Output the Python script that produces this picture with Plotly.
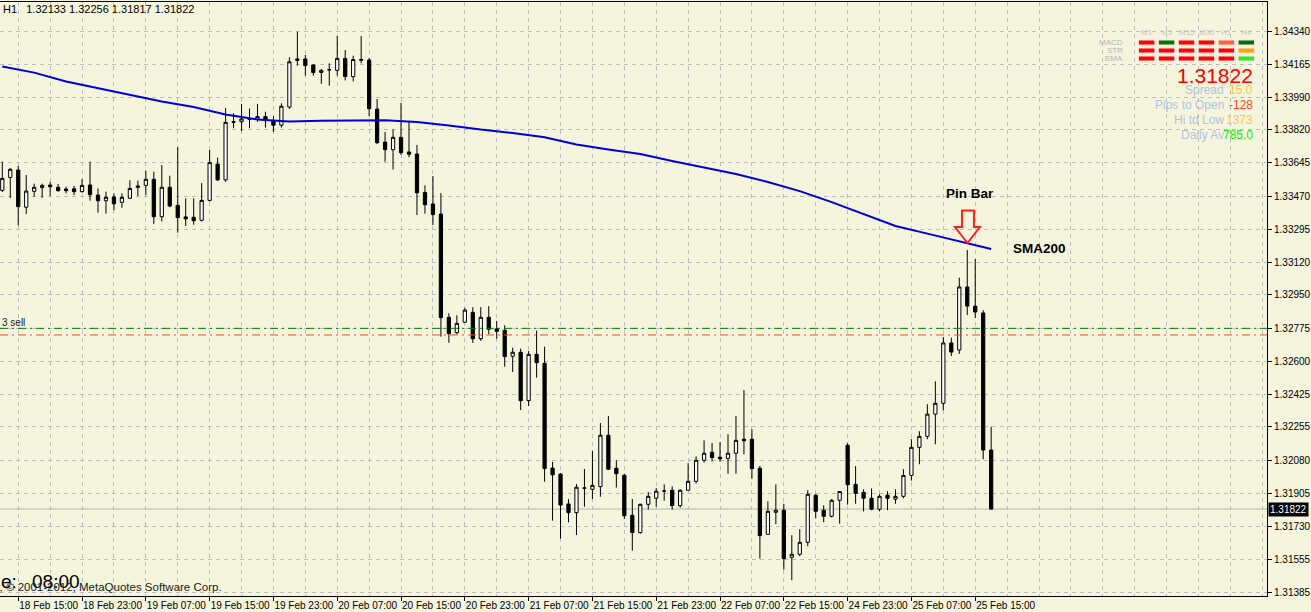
import plotly.graph_objects as go

# ---------------- data (EURUSD H1) ----------------
opens = [1.33501, 1.33569, 1.33608, 1.33412, 1.33496, 1.33515, 1.33529, 1.33517, 1.33508, 1.33509,
         1.33494, 1.33529, 1.33476, 1.33446, 1.33466, 1.33438, 1.33459, 1.33524, 1.33527, 1.33559,
         1.33362, 1.33517, 1.33422, 1.33361, 1.33359, 1.33343, 1.33448, 1.33639, 1.33556, 1.33859,
         1.33862, 1.33875, 1.33875, 1.33890, 1.33868, 1.33844, 1.33940, 1.34193, 1.34193, 1.34161,
         1.34122, 1.34136, 1.34133, 1.34196, 1.34100, 1.34190, 1.34187, 1.33929, 1.33755, 1.33715,
         1.33780, 1.33703, 1.33692, 1.33490, 1.33429, 1.33376, 1.32832, 1.32751, 1.32806, 1.32858,
         1.32719, 1.32832, 1.32771, 1.32764, 1.32627, 1.32648, 1.32393, 1.32637, 1.32590, 1.32038,
         1.32006, 1.31849, 1.31803, 1.31932, 1.31926, 1.31940, 1.32211, 1.32037, 1.32000, 1.31789,
         1.31698, 1.31847, 1.31879, 1.31917, 1.31921, 1.31840, 1.31921, 1.31968, 1.32079, 1.32121,
         1.32095, 1.32089, 1.32116, 1.32190, 1.32190, 1.32037, 1.31689, 1.31805, 1.31816, 1.31568,
         1.31584, 1.31647, 1.31895, 1.31816, 1.31784, 1.31868, 1.32158, 1.31952, 1.31910, 1.31879,
         1.31821, 1.31895, 1.31874, 1.31889, 1.31999, 1.32147, 1.32205, 1.32322, 1.32379, 1.32697,
         1.32660, 1.32992, 1.32891, 1.32855, 1.32133]
highs = [1.33652, 1.33617, 1.33629, 1.33582, 1.33536, 1.33536, 1.33546, 1.33534, 1.33520, 1.33524,
         1.33560, 1.33652, 1.33511, 1.33494, 1.33485, 1.33485, 1.33554, 1.33552, 1.33604, 1.33599,
         1.33634, 1.33578, 1.33729, 1.33459, 1.33459, 1.33539, 1.33713, 1.33673, 1.33935, 1.33907,
         1.33956, 1.33932, 1.33956, 1.33915, 1.33892, 1.33959, 1.34202, 1.34337, 1.34214, 1.34165,
         1.34140, 1.34170, 1.34314, 1.34240, 1.34210, 1.34314, 1.34198, 1.33982, 1.33808, 1.33822,
         1.33961, 1.33866, 1.33740, 1.33527, 1.33576, 1.33486, 1.32853, 1.32843, 1.32881, 1.32886,
         1.32886, 1.32891, 1.32813, 1.32790, 1.32672, 1.32667, 1.32655, 1.32762, 1.32677, 1.32070,
         1.32012, 1.31875, 1.31954, 1.32033, 1.32128, 1.32275, 1.32312, 1.32079, 1.32008, 1.31875,
         1.31850, 1.31912, 1.31933, 1.31952, 1.31942, 1.31926, 1.32064, 1.32100, 1.32184, 1.32170,
         1.32175, 1.32216, 1.32312, 1.32449, 1.32242, 1.32049, 1.31863, 1.31952, 1.31850, 1.31684,
         1.31716, 1.31921, 1.31900, 1.31842, 1.31875, 1.31916, 1.32169, 1.32048, 1.31926, 1.31931,
         1.31900, 1.31916, 1.31926, 1.32032, 1.32190, 1.32232, 1.32374, 1.32495, 1.32728, 1.32725,
         1.33041, 1.33187, 1.33139, 1.32870, 1.32256]
lows = [1.33492, 1.33459, 1.33315, 1.33376, 1.33467, 1.33462, 1.33472, 1.33494, 1.33485, 1.33476,
        1.33489, 1.33446, 1.33383, 1.33378, 1.33396, 1.33409, 1.33455, 1.33471, 1.33476, 1.33324,
        1.33337, 1.33412, 1.33278, 1.33313, 1.33320, 1.33337, 1.33442, 1.33550, 1.33546, 1.33828,
        1.33813, 1.33828, 1.33862, 1.33831, 1.33808, 1.33831, 1.33930, 1.34158, 1.34105, 1.34105,
        1.34062, 1.34052, 1.34105, 1.34080, 1.34075, 1.34170, 1.33892, 1.33745, 1.33652, 1.33610,
        1.33688, 1.33675, 1.33371, 1.33378, 1.33318, 1.32730, 1.32698, 1.32744, 1.32802, 1.32697,
        1.32708, 1.32744, 1.32719, 1.32572, 1.32544, 1.32344, 1.32365, 1.32514, 1.31966, 1.31761,
        1.31666, 1.31752, 1.31685, 1.31834, 1.31875, 1.31887, 1.32028, 1.31935, 1.31770, 1.31603,
        1.31692, 1.31819, 1.31834, 1.31866, 1.31819, 1.31829, 1.31920, 1.31956, 1.32066, 1.32072,
        1.32072, 1.32008, 1.32008, 1.32111, 1.31982, 1.31561, 1.31688, 1.31742, 1.31503, 1.31447,
        1.31574, 1.31626, 1.31773, 1.31752, 1.31778, 1.31745, 1.31845, 1.31850, 1.31810, 1.31816,
        1.31810, 1.31816, 1.31850, 1.31879, 1.31972, 1.32058, 1.32190, 1.32163, 1.32342, 1.32628,
        1.32639, 1.32844, 1.32828, 1.32084, 1.31817]
closes = [1.33564, 1.33612, 1.33415, 1.33497, 1.33517, 1.33527, 1.33520, 1.33499, 1.33499, 1.33494,
          1.33527, 1.33478, 1.33446, 1.33464, 1.33430, 1.33464, 1.33511, 1.33517, 1.33559, 1.33362,
          1.33517, 1.33418, 1.33357, 1.33351, 1.33341, 1.33448, 1.33648, 1.33556, 1.33859, 1.33862,
          1.33877, 1.33875, 1.33890, 1.33868, 1.33844, 1.33944, 1.34178, 1.34186, 1.34158, 1.34122,
          1.34133, 1.34136, 1.34196, 1.34100, 1.34190, 1.34187, 1.33931, 1.33752, 1.33715, 1.33780,
          1.33699, 1.33691, 1.33488, 1.33425, 1.33373, 1.32830, 1.32746, 1.32800, 1.32870, 1.32719,
          1.32832, 1.32769, 1.32758, 1.32625, 1.32648, 1.32393, 1.32637, 1.32593, 1.32035, 1.32002,
          1.31843, 1.31803, 1.31937, 1.31933, 1.31947, 1.32211, 1.32032, 1.32008, 1.31787, 1.31698,
          1.31847, 1.31889, 1.31916, 1.31917, 1.31840, 1.31921, 1.31968, 1.32079, 1.32116, 1.32093,
          1.32087, 1.32116, 1.32184, 1.32182, 1.32035, 1.31682, 1.31810, 1.31816, 1.31561, 1.31584,
          1.31647, 1.31900, 1.31810, 1.31784, 1.31868, 1.31914, 1.31950, 1.31905, 1.31879, 1.31821,
          1.31889, 1.31879, 1.31889, 1.31999, 1.32147, 1.32205, 1.32322, 1.32379, 1.32697, 1.32649,
          1.32992, 1.32891, 1.32860, 1.32133, 1.31822]

sma_bars = [0, 4, 8, 12, 16, 20, 24, 28, 32, 36, 40, 44, 48, 52, 56, 60,
            64, 68, 72, 76, 80, 84, 88, 92, 96, 100, 104, 108, 112, 116, 120, 124]
sma200 = [1.34153, 1.34121, 1.34074, 1.34040, 1.34006, 1.33969, 1.33940, 1.33900,
          1.33874, 1.33864, 1.33867, 1.33870, 1.33870, 1.33861, 1.33843, 1.33821,
          1.33803, 1.33780, 1.33742, 1.33716, 1.33692, 1.33655, 1.33621, 1.33587,
          1.33545, 1.33497, 1.33439, 1.33376, 1.33313, 1.33273, 1.33234, 1.33192]

tick_bars = [2, 10, 18, 26, 34, 42, 50, 58, 66, 74, 82, 90, 98, 106, 114, 122]
tick_labels = ["18 Feb 15:00", "18 Feb 23:00", "19 Feb 07:00", "19 Feb 15:00",
               "19 Feb 23:00", "20 Feb 07:00", "20 Feb 15:00", "20 Feb 23:00",
               "21 Feb 07:00", "21 Feb 15:00", "21 Feb 23:00", "22 Feb 07:00",
               "22 Feb 15:00", "24 Feb 23:00", "25 Feb 07:00", "25 Feb 15:00"]
price_ticks = [1.34340, 1.34165, 1.33990, 1.33820, 1.33645, 1.33470, 1.33295, 1.33120,
               1.32950, 1.32775, 1.32600, 1.32425, 1.32255, 1.32080, 1.31905, 1.31730,
               1.31555, 1.31385]

bid_price = 1.31822
sell_level_green = 1.32774
sell_level_red = 1.32739

# ---------------- styling / layout helpers ----------------
BG = "#F5F4DC"
GRID = "#BDBDBD"
FONT = "Liberation Sans"
FIG_W, FIG_H = 1311, 612
PL, PR, PT, PB = 0, 1271, 2, 596


def px(x):
    return (x - PL) / (PR - PL)


def py(y):
    return (PB - y) / (PB - PT)


bar_index = list(range(len(opens)))

fig = go.Figure()
fig.add_trace(go.Candlestick(
    x=bar_index, open=opens, high=highs, low=lows, close=closes,
    increasing=dict(line=dict(color="black", width=1), fillcolor="white"),
    decreasing=dict(line=dict(color="black", width=1), fillcolor="black"),
    whiskerwidth=0, hoverinfo="skip", showlegend=False))
fig.add_trace(go.Scatter(x=sma_bars, y=sma200, mode="lines",
                         line=dict(color="#0000DC", width=2), hoverinfo="skip",
                         showlegend=False))

shapes = []
shapes.append(dict(type="line", xref="paper", yref="y", x0=0, x1=1,
                   y0=bid_price, y1=bid_price, layer="below",
                   line=dict(color="#B4B4B4", width=1)))
shapes.append(dict(type="line", xref="paper", yref="y", x0=0, x1=1,
                   y0=sell_level_green, y1=sell_level_green,
                   line=dict(color="#008000", width=1, dash="8px,4px,2px,4px")))
shapes.append(dict(type="line", xref="paper", yref="y", x0=0, x1=1,
                   y0=sell_level_red, y1=sell_level_red,
                   line=dict(color="#F05020", width=1, dash="8px,4px,2px,4px")))

# hollow red arrow (pin bar marker)
arrow_pts = [(965, 210.5), (977, 210.5), (977, 227), (983, 227), (970.5, 243),
             (958, 227), (965, 227)]
path = "M " + " L ".join(f"{px(x):.5f},{py(y):.5f}" for x, y in arrow_pts) + " Z"
shapes.append(dict(type="path", xref="paper", yref="paper", path=path,
                   line=dict(color="#FF2020", width=2)))

# indicator matrix (top right)
matrix_colors = [
    ["#FF0000", "#007800", "#FF0000", "#FF0000", "#FF6040", "#007000"],
    ["#FF0000", "#FF0000", "#FF0000", "#FF0000", "#FF0000", "#FFA500"],
    ["#FF0000", "#FF0000", "#FF0000", "#FF0000", "#FF0000", "#22EE22"],
]
row_y = [(40, 45), (48, 53), (56, 61)]
for r, row in enumerate(matrix_colors):
    for c, col in enumerate(row):
        x0 = 1142 + 20 * c
        shapes.append(dict(type="rect", xref="paper", yref="paper",
                           x0=px(x0), x1=px(x0 + 16.5),
                           y0=py(row_y[r][1]), y1=py(row_y[r][0]),
                           fillcolor=col, line=dict(color="#FFE0E0", width=1)))

ann = []


def text(x, y, s, size, color="black", xanchor="left", bold=False, **kw):
    ann.append(dict(xref="paper", yref="paper", x=px(x), y=py(y), text=f"<b>{s}</b>" if bold else s,
                    showarrow=False, xanchor=xanchor, yanchor="middle",
                    font=dict(family=FONT, size=size, color=color), **kw))


text(1, 9, "H1\u00a0\u00a0 1.32133 1.32256 1.31817 1.31822", 11)
for c, lab in enumerate(["M1", "M5", "M15", "M30", "H1", "H4"]):
    text(1150.5 + 20 * c, 32.5, lab, 8, "#C4C4C4", xanchor="center")
for r, lab in enumerate(["MACD", "STR", "EMA"]):
    text(1129, 42.5 + 8 * r, lab, 8, "#B4B4B4", xanchor="right")
text(1259, 75, "1.31822", 21, "#FF0000", xanchor="right")
rows = [("Spread", "15.0", "#FFC83C", 90), ("Pips to Open", "-128", "#FF4A20", 105),
        ("Hi td Low", "1373", "#FFC83C", 120), ("Daily Av", "785.0", "#10F010", 135)]
for lab, val, col, y in rows:
    text(1230, y, lab, 12, "#B0C4DE", xanchor="right")
    text(1259, y, val, 12, col, xanchor="right")
text(973, 194, "Pin Bar", 13.5, bold=True, xanchor="center")
text(1043, 248, "SMA200", 13.5, bold=True, xanchor="center")
text(0, 322, "3 sell", 10, "#202020")
text(-1, 581, "e:", 19)
text(30, 581, "08:00", 19)
text(225, 587, "er, © 2001-2012, MetaQuotes Software Corp.", 11.5, "#202020", xanchor="right")
ann.append(dict(xref="paper", yref="y", x=px(1272), y=bid_price, text="1.31822",
                showarrow=False, xanchor="left", yanchor="middle", bgcolor="black",
                borderpad=1, font=dict(family=FONT, size=10, color="white")))

minor_vals = list(range(2, 160, 4))

fig.update_layout(
    width=FIG_W, height=FIG_H,
    margin=dict(l=PL, r=FIG_W - PR, t=PT, b=FIG_H - PB, pad=0),
    paper_bgcolor=BG, plot_bgcolor=BG, showlegend=False,
    boxgap=0.42,
    shapes=shapes, annotations=ann,
    xaxis=dict(range=[-0.2875, 158.5875], tickmode="array", tickvals=tick_bars,
               ticktext=tick_labels, ticks="outside", ticklen=4, tickcolor="black",
               showline=True, linecolor="black", linewidth=1, mirror=True,
               showgrid=True, gridcolor=GRID, griddash="4px,4px", gridwidth=1,
               ticklabelposition="outside right", tickangle=0, zeroline=False,
               tickfont=dict(family=FONT, size=10, color="black"),
               rangeslider=dict(visible=False),
               minor=dict(tickmode="array", tickvals=minor_vals, showgrid=True,
                          gridcolor=GRID, griddash="4px,4px", ticks="")),
    yaxis=dict(side="right", range=[1.31364, 1.34493], tickmode="array",
               tickvals=price_ticks, ticktext=[f"{v:.5f}" for v in price_ticks],
               ticks="outside", ticklen=4, tickcolor="black", showline=True,
               linecolor="black", linewidth=1, showgrid=True, gridcolor=GRID,
               griddash="4px,4px", zeroline=False,
               tickfont=dict(family=FONT, size=10, color="black")),
)

fig.write_html("out.html", config={"displayModeBar": False},
               post_script="document.body.style.margin='0';")
